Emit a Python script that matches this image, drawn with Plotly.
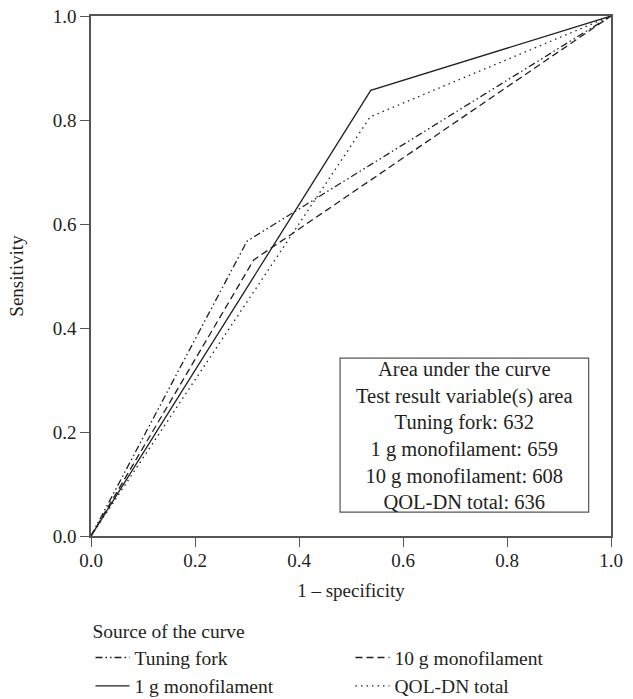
import plotly.graph_objects as go

# ROC curve data (1 - specificity, sensitivity)
tuning_fpr = [0.0, 0.30, 1.0]
tuning_tpr = [0.0, 0.567, 1.0]
mono10_fpr = [0.0, 0.313, 1.0]
mono10_tpr = [0.0, 0.531, 1.0]
mono1_fpr = [0.0, 0.538, 1.0]
mono1_tpr = [0.0, 0.857, 1.0]
qol_fpr = [0.0, 0.537, 1.0]
qol_tpr = [0.0, 0.806, 1.0]

series_names = ["Tuning fork", "10 g monofilament", "1 g monofilament", "QOL-DN total"]
auc_values = ["632", "608", "659", "636"]
tick_vals = [0.0, 0.2, 0.4, 0.6, 0.8, 1.0]
tick_text = ["0.0", "0.2", "0.4", "0.6", "0.8", "1.0"]

FONT = "Liberation Serif"
INK = "#231f20"
AX = "#555555"

styles = {
    "Tuning fork": "7px,3px,1.5px,3px,1.5px,3px",
    "10 g monofilament": "7px,4px",
    "1 g monofilament": "solid",
    "QOL-DN total": "1.5px,4px",
}

fig = go.Figure()
data = [
    (tuning_fpr, tuning_tpr),
    (mono10_fpr, mono10_tpr),
    (mono1_fpr, mono1_tpr),
    (qol_fpr, qol_tpr),
]
for name, (xs, ys) in zip(series_names, data):
    fig.add_trace(go.Scatter(
        x=xs, y=ys, mode="lines", name=name,
        line=dict(color=INK, width=1.3, dash=styles[name]),
    ))

# AUC box
auc_lines = ["Area under the curve", "Test result variable(s) area"]
order = ["Tuning fork", "1 g monofilament", "10 g monofilament", "QOL-DN total"]
auc_map = dict(zip(series_names, auc_values))
for n in order:
    auc_lines.append(f"{n}: {auc_map[n]}")

fig.add_shape(type="rect", xref="x", yref="y", x0=0.479, x1=0.957, y0=0.046, y1=0.342,
              line=dict(color=AX, width=1.2), fillcolor="white", layer="above")
fig.add_annotation(x=0.718, y=0.194, xref="x", yref="y", text="<br>".join(auc_lines),
                   showarrow=False, font=dict(family=FONT, size=20.5, color=INK),
                   align="center", xanchor="center", yanchor="middle")

axis_common = dict(
    range=[0, 1], tickvals=tick_vals, ticktext=tick_text,
    ticks="outside", ticklen=9, tickwidth=1.3, tickcolor=AX,
    showline=True, linecolor=AX, linewidth=1.5, mirror=True,
    showgrid=False, zeroline=False,
    tickfont=dict(family=FONT, size=19, color=INK),
)

fig.update_layout(
    width=633, height=699,
    margin=dict(l=91, r=22, t=16, b=163, autoexpand=False),
    plot_bgcolor="white", paper_bgcolor="white",
    xaxis=dict(**axis_common, ticklabelstandoff=-3,
               title=dict(text="1 – specificity", font=dict(family=FONT, size=19, color=INK), standoff=14)),
    yaxis=dict(**axis_common,
               title=dict(text="Sensitivity", font=dict(family=FONT, size=19, color=INK), standoff=24)),
    legend=dict(
        orientation="h", x=-0.001, xanchor="left", y=-0.148, yanchor="top",
        title=dict(text="Source of the curve", side="top", font=dict(family=FONT, size=19.5, color=INK)),
        font=dict(family=FONT, size=19.5, color=INK),
        entrywidth=211, itemwidth=34, tracegroupgap=0,
        bgcolor="rgba(0,0,0,0)",
    ),
    showlegend=True,
)

fig.write_html("out.html", config={"displayModeBar": False},
               post_script="document.body.style.margin='0';document.body.style.overflow='hidden';")
